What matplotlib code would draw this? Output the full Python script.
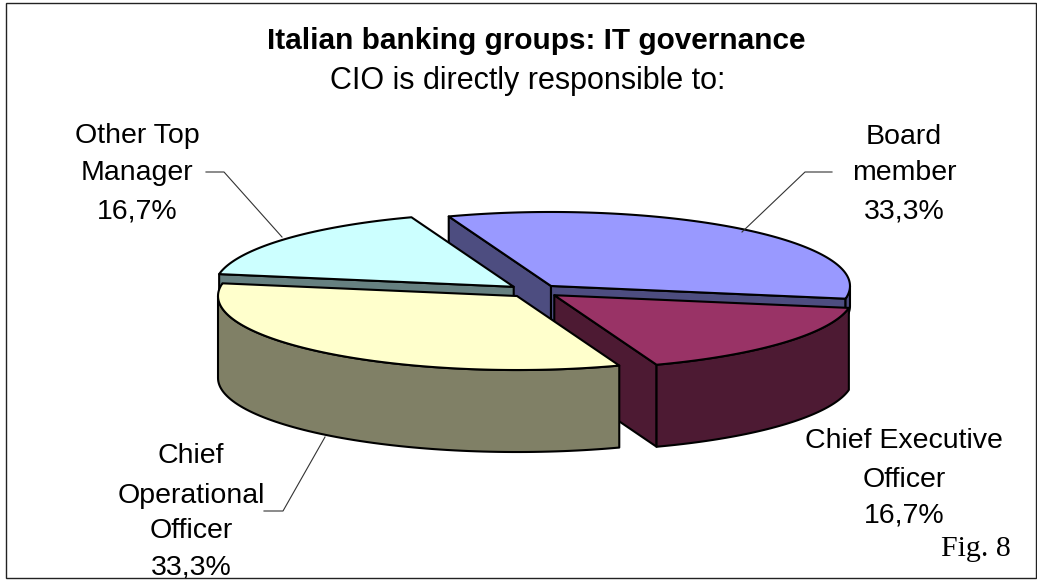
import numpy as np
import matplotlib
matplotlib.use("Agg")
import matplotlib.pyplot as plt
from matplotlib.patches import Polygon, Rectangle

# slices, clockwise from the back of the pie
names = ["Board member", "Chief Executive Officer", "Chief Operational Officer", "Other Top Manager"]
shares = [33.3, 16.7, 33.3, 16.7]
top_colors = ["#9999FF", "#993366", "#FFFFCC", "#CCFFFF"]
side_colors = ["#4D4D80", "#4D1A33", "#808066", "#668080"]

title = "Italian banking groups: IT governance"
subtitle = "CIO is directly responsible to:"
fig_note = "Fig. 8"

# pie geometry, in pixels
CX, CY = 534, 291
A, B = 299, 74
DEPTH = 82
EXPLODE = 0.0885
START = 110
LW = 1.5
# the back slice only shows a sliver of rim beside the slice in front of it
wall_depth = [20, DEPTH, DEPTH, DEPTH]


def ell(cx, cy, deg):
    t = np.radians(deg)
    return np.column_stack([cx + A * np.cos(t), cy - B * np.sin(t)])


def slice_geometry(shares):
    out = []
    angle = START
    total = sum(shares)
    for v in shares:
        sweep = 360 * v / total
        mid = np.radians(angle - sweep / 2)
        cx = CX + EXPLODE * A * np.cos(mid)
        cy = CY - EXPLODE * B * np.sin(mid)
        out.append((cx, cy, angle, angle - sweep))
        angle -= sweep
    return out


def shape(ax, pts, color):
    ax.add_patch(Polygon(pts, closed=True, facecolor=color, edgecolor="black",
                         linewidth=LW, joinstyle="round"))


def draw_slice(ax, geom, top, side, rim_depth):
    cx, cy, a0, a1 = geom
    down = np.array([0, DEPTH])
    apex = np.array([cx, cy])
    # cut faces, only those turned towards the viewer
    if np.cos(np.radians(a0)) < 0:
        p = ell(cx, cy, np.array([a0]))[0]
        shape(ax, [apex, p, p + down, apex + down], side)
    if np.cos(np.radians(a1)) > 0:
        p = ell(cx, cy, np.array([a1]))[0]
        shape(ax, [apex, p, p + down, apex + down], side)
    # outer wall, only the part on the near half of the rim
    lo, hi = max(a1, -180), min(a0, 0)
    if hi > lo:
        rim = ell(cx, cy, np.linspace(hi, lo, 80))
        shape(ax, np.vstack([rim, rim[::-1] + [0, rim_depth]]), side)
    # top surface
    arc = ell(cx, cy, np.linspace(a0, a1, 160))
    shape(ax, np.vstack([apex, arc]), top)


def pct(v):
    return f"{v:.1f}%".replace(".", ",")


fig = plt.figure(figsize=(10.37, 5.81), dpi=100)
ax = fig.add_axes([0, 0, 1, 1])
ax.set_xlim(0, 1037)
ax.set_ylim(581, 0)
ax.axis("off")

geoms = slice_geometry(shares)
# painter's order: back slices first
for i in (0, 3, 1, 2):
    draw_slice(ax, geoms[i], top_colors[i], side_colors[i], wall_depth[i])

# leader lines
for xs, ys in [([206, 224, 282], [172, 172, 237]),
               ([832, 805, 742], [172, 172, 232]),
               ([264, 283, 325], [511, 511, 437])]:
    ax.plot(xs, ys, color="#333333", lw=0.8)

sans = "Liberation Sans"
ax.text(536, 41, title, family=sans, weight="bold", fontsize=21.4, ha="center", va="center")
ax.text(528, 81, subtitle, family=sans, fontsize=22, ha="center", va="center")

label_lines = [
    (904, ["Board", "member", pct(shares[0])], [137, 173, 211]),
    (904, ["Chief Executive", "Officer", pct(shares[1])], [441, 480, 516]),
    (191, ["Chief", "Operational", "Officer", pct(shares[2])], [456, 496, 531, 568]),
    (137, ["Other Top", "Manager", pct(shares[3])], [136, 173, 211]),
]
for x, lines, ys in label_lines:
    for line, y in zip(lines, ys):
        ax.text(x, y, line, family=sans, fontsize=20.5, ha="center", va="center")

ax.text(976, 549, fig_note, family="Liberation Serif", fontsize=21.5, ha="center", va="center")

# chart frame
ax.add_patch(Rectangle((5.5, 2.5), 1030, 575.5, fill=False, edgecolor="#222222", linewidth=1.0, zorder=5))

fig.savefig("out.png", dpi=100, facecolor="white")
